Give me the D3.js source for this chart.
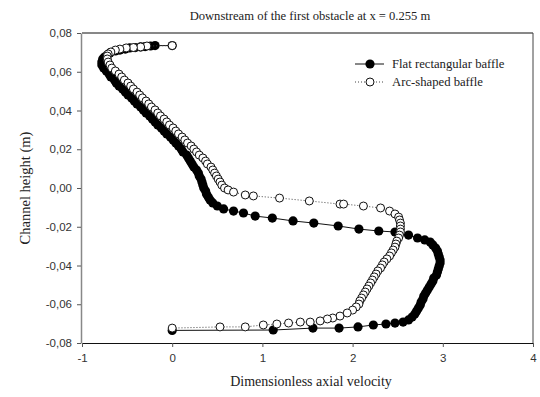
<!DOCTYPE html>
<html>
<head>
<meta charset="utf-8">
<script src="https://cdn.jsdelivr.net/npm/d3@7"></script>
<style>
  html, body { margin: 0; padding: 0; background: #fff; }
  svg { display: block; }
</style>
</head>
<body>
<svg id="chart" width="540" height="397"></svg>
<script>
// ---- data ----
const title = "Downstream of the first obstacle at x = 0.255 m";
const xLabel = "Dimensionless axial velocity";
const yLabel = "Channel height (m)";
const seriesNames = ["Flat rectangular baffle", "Arc-shaped baffle"];
const xTicks = [-1, 0, 1, 2, 3, 4];
const yTicks = [-0.08, -0.06, -0.04, -0.02, 0.00, 0.02, 0.04, 0.06, 0.08];

// Flat rectangular baffle: velocity (u) and height (y)
const flatU = [0, -0.19, -0.24, -0.30, -0.35, -0.41, -0.47, -0.52, -0.58, -0.63, -0.69, -0.72, -0.75, -0.77, -0.78, -0.78,
  -0.76, -0.73, -0.70, -0.68, -0.64, -0.62, -0.59, -0.55, -0.52, -0.49, -0.45, -0.42, -0.39, -0.35, -0.32, -0.29,
  -0.25, -0.22, -0.19, -0.16, -0.12, -0.09, -0.06, -0.02, 0.01, 0.04, 0.07, 0.10, 0.12, 0.16, 0.18, 0.20,
  0.22, 0.24, 0.27, 0.29, 0.30, 0.32, 0.33, 0.34, 0.35, 0.37, 0.38, 0.40, 0.42, 0.45, 0.50, 0.57,
  0.68, 0.79, 0.92, 1.11, 1.34, 1.57, 1.84, 2.07, 2.29, 2.47, 2.62, 2.72, 2.80,
  2.86, 2.89, 2.92, 2.94, 2.95, 2.96, 2.97, 2.97, 2.96, 2.95, 2.94, 2.93, 2.90, 2.89, 2.87, 2.85,
  2.83, 2.81, 2.79, 2.78, 2.76, 2.75, 2.73, 2.71, 2.69, 2.66, 2.62, 2.56,
  2.47, 2.37, 2.23, 2.06, 1.85, 1.56, 1.12, 0];
const flatY = [0.0735, 0.0735, 0.0733, 0.0730, 0.0728, 0.0725, 0.0723, 0.0717, 0.0712, 0.0707, 0.0697, 0.0686, 0.0676, 0.0666, 0.0650, 0.0635,
  0.0619, 0.0604, 0.0588, 0.0573, 0.0557, 0.0542, 0.0526, 0.0511, 0.0495, 0.0480, 0.0465, 0.0449, 0.0434, 0.0418, 0.0403, 0.0387,
  0.0372, 0.0356, 0.0341, 0.0325, 0.0310, 0.0294, 0.0279, 0.0263, 0.0248, 0.0232, 0.0217, 0.0201, 0.0186, 0.0170, 0.0155, 0.0139,
  0.0124, 0.0108, 0.0093, 0.0077, 0.0062, 0.0046, 0.0031, 0.0015, 0.0000, -0.0015, -0.0031, -0.0046, -0.0062, -0.0077, -0.0093, -0.0108,
  -0.0119, -0.0129, -0.0145, -0.0155, -0.0170, -0.0181, -0.0196, -0.0212, -0.0222, -0.0227, -0.0243, -0.0258, -0.0268,
  -0.0279, -0.0294, -0.0310, -0.0325, -0.0341, -0.0356, -0.0372, -0.0387, -0.0403, -0.0418, -0.0434, -0.0449, -0.0465, -0.0480, -0.0495, -0.0511,
  -0.0526, -0.0542, -0.0557, -0.0573, -0.0588, -0.0604, -0.0619, -0.0635, -0.0650, -0.0666, -0.0681, -0.0692,
  -0.0697, -0.0702, -0.0707, -0.0717, -0.0723, -0.0723, -0.0733, -0.0735];

// Arc-shaped baffle: velocity (u) and height (y)
const arcU = [0, -0.28, -0.35, -0.43, -0.51, -0.58, -0.63, -0.68, -0.71, -0.72, -0.72, -0.71, -0.69, -0.67, -0.63, -0.59,
  -0.56, -0.53, -0.49, -0.46, -0.43, -0.39, -0.36, -0.33, -0.29, -0.26, -0.23, -0.19, -0.16, -0.13, -0.09, -0.06,
  -0.03, 0.01, 0.04, 0.07, 0.11, 0.14, 0.17, 0.21, 0.24, 0.27, 0.30, 0.34, 0.37, 0.39, 0.43, 0.45,
  0.47, 0.49, 0.51, 0.53, 0.55, 0.58, 0.62, 0.68, 0.81, 0.90, 1.19, 1.52, 1.86, 1.90, 2.12, 2.31,
  2.41, 2.47, 2.51, 2.52, 2.53, 2.53, 2.53, 2.53, 2.52, 2.51, 2.49, 2.48, 2.47, 2.45, 2.43, 2.41,
  2.38, 2.35, 2.33, 2.31, 2.28, 2.26, 2.24, 2.22, 2.20, 2.18, 2.16, 2.14, 2.12, 2.10, 2.08, 2.07,
  2.04, 2.00, 1.94, 1.86, 1.78, 1.72, 1.64, 1.53, 1.42, 1.29, 1.16, 1.01, 0.81, 0.53, 0];
const arcY = [0.0735, 0.0733, 0.0728, 0.0725, 0.0723, 0.0717, 0.0712, 0.0702, 0.0692, 0.0681, 0.0666, 0.0650, 0.0635, 0.0619, 0.0604, 0.0588,
  0.0573, 0.0557, 0.0542, 0.0526, 0.0511, 0.0495, 0.0480, 0.0465, 0.0449, 0.0434, 0.0418, 0.0403, 0.0387, 0.0372, 0.0356, 0.0341,
  0.0325, 0.0310, 0.0294, 0.0279, 0.0263, 0.0248, 0.0232, 0.0217, 0.0201, 0.0186, 0.0170, 0.0155, 0.0139, 0.0124, 0.0108, 0.0093,
  0.0077, 0.0062, 0.0046, 0.0031, 0.0015, 0.0000, -0.0010, -0.0021, -0.0036, -0.0041, -0.0052, -0.0067, -0.0083, -0.0083, -0.0093, -0.0103,
  -0.0119, -0.0134, -0.0150, -0.0165, -0.0181, -0.0196, -0.0212, -0.0227, -0.0243, -0.0258, -0.0274, -0.0289, -0.0305, -0.0320, -0.0335, -0.0351,
  -0.0366, -0.0382, -0.0397, -0.0413, -0.0428, -0.0444, -0.0459, -0.0475, -0.0490, -0.0506, -0.0521, -0.0537, -0.0552, -0.0568, -0.0583, -0.0599,
  -0.0614, -0.0630, -0.0645, -0.0661, -0.0671, -0.0676, -0.0686, -0.0692, -0.0692, -0.0697, -0.0702, -0.0707, -0.0717, -0.0717, -0.0723, -0.0728, -0.0733];

// ---- chart ----
const svg = d3.select("#chart");
const x = d3.scaleLinear().domain([-1, 4]).range([82, 533]);
const y = d3.scaleLinear().domain([-0.08, 0.08]).range([343, 33]);
const tickFont = "Arial, 'Liberation Sans', sans-serif";
const serif = "'Times New Roman', 'Liberation Serif', serif";
const fixMinus = s => s.replace("\u2212", "-");

// frame: top and right border
svg.append("line").attr("x1", x(-1)).attr("x2", x(4)).attr("y1", y(0.08)).attr("y2", y(0.08))
  .attr("stroke", "#111").attr("stroke-width", 1);
svg.append("line").attr("x1", x(4)).attr("x2", x(4)).attr("y1", y(0.08)).attr("y2", y(-0.08))
  .attr("stroke", "#444").attr("stroke-width", 1);

// x axis
const xAxis = svg.append("g").attr("transform", `translate(0,${y(-0.08)})`)
  .call(d3.axisBottom(x).tickValues(xTicks).tickFormat(v => fixMinus(d3.format("d")(v)))
    .tickSizeInner(4).tickSizeOuter(0).tickPadding(7));
xAxis.select(".domain").attr("stroke", "#111");
xAxis.selectAll(".tick line").attr("stroke", "#555");
xAxis.selectAll("text").attr("font-family", tickFont).attr("font-size", 11.5).attr("fill", "#333");

// y axis
const commaFmt = v => fixMinus(d3.format(".2f")(v)).replace(".", ",");
const yAxis = svg.append("g").attr("transform", `translate(${x(-1) - 1},0)`)
  .call(d3.axisLeft(y).tickValues(yTicks).tickFormat(commaFmt).tickSizeInner(4).tickSizeOuter(0).tickPadding(5));
yAxis.select(".domain").attr("stroke", "#888").attr("stroke-width", 1.5);
yAxis.selectAll(".tick line").attr("stroke", "#555");
yAxis.selectAll("text").attr("font-family", tickFont).attr("font-size", 11.5).attr("fill", "#333");

// axis titles
svg.append("text").attr("x", 311).attr("y", 386).attr("text-anchor", "middle")
  .attr("font-family", serif).attr("font-size", 14).attr("fill", "#222").text(xLabel);
svg.append("text").attr("transform", "translate(30,188) rotate(-90)").attr("text-anchor", "middle")
  .attr("font-family", serif).attr("font-size", 14.5).attr("fill", "#222").text(yLabel);

// title
svg.append("text").attr("x", 310).attr("y", 20).attr("text-anchor", "middle")
  .attr("font-family", serif).attr("font-size", 12.6).attr("fill", "#222").text(title);

// series
const flat = flatU.map((u, i) => ({u, v: flatY[i]}));
const arc = arcU.map((u, i) => ({u, v: arcY[i]}));
const line = d3.line().x(d => x(d.u)).y(d => y(d.v));

svg.append("path").datum(flat).attr("d", line).attr("fill", "none").attr("stroke", "#111").attr("stroke-width", 1);
svg.append("g").selectAll("circle").data(flat).join("circle")
  .attr("cx", d => x(d.u)).attr("cy", d => y(d.v)).attr("r", 4.6).attr("fill", "#000");

svg.append("path").datum(arc).attr("d", line).attr("fill", "none").attr("stroke", "#444")
  .attr("stroke-width", 1).attr("stroke-dasharray", "1,2");
svg.append("g").selectAll("circle").data(arc).join("circle")
  .attr("cx", d => x(d.u)).attr("cy", d => y(d.v)).attr("r", 4)
  .attr("fill", "#fff").attr("stroke", "#111").attr("stroke-width", 1);

// legend
const lg = svg.append("g");
const rows = [{name: seriesNames[0], filled: true, dash: null, yy: 64},
              {name: seriesNames[1], filled: false, dash: "1,2", yy: 82}];
rows.forEach(r => {
  lg.append("line").attr("x1", 355).attr("x2", 384).attr("y1", r.yy).attr("y2", r.yy)
    .attr("stroke", r.filled ? "#111" : "#444").attr("stroke-width", 1)
    .attr("stroke-dasharray", r.dash);
  lg.append("circle").attr("cx", 370).attr("cy", r.yy).attr("r", r.filled ? 4.6 : 4)
    .attr("fill", r.filled ? "#000" : "#fff").attr("stroke", "#111").attr("stroke-width", r.filled ? 0 : 1);
  lg.append("text").attr("x", 392).attr("y", r.yy + 4).attr("font-family", serif).attr("font-size", 12.7)
    .attr("fill", "#222").text(r.name);
});
</script>
</body>
</html>
